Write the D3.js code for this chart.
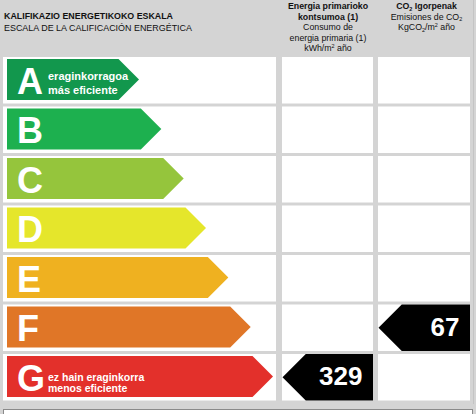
<!DOCTYPE html>
<html>
<head>
<meta charset="utf-8">
<script src="https://cdn.jsdelivr.net/npm/d3@7"></script>
<style>
  html, body { margin: 0; padding: 0; background: #d4d4d4; }
  svg { display: block; font-family: "Liberation Sans", Arial, sans-serif; }
</style>
</head>
<body>
<svg id="chart" width="476" height="414"></svg>
<script>
// ---- data ----
const ratings = ["A", "B", "C", "D", "E", "F", "G"];
const ratingColors = ["#12974d", "#1db04f", "#95c53c", "#e5e62b", "#efb120", "#e07627", "#e3302b"];
const topLabel = ["eraginkorragoa", "más eficiente"];
const bottomLabel = ["ez hain eraginkorra", "menos eficiente"];
const titleLines = ["KALIFIKAZIO ENERGETIKOKO ESKALA", "ESCALA DE LA CALIFICACIÓN ENERGÉTICA"];
const columnKeys = ["energy", "co2"];
const columnHeaders = [
  [["Energia primarioko", true], ["kontsumoa (1)", true], ["Consumo de", false], ["energia primaria (1)", false], ["kWh/m² año", false]],
  [["CO₂ Igorpenak", true], ["Emisiones de CO₂", false], ["KgCO₂/m² año", false]]
];
const resultValues = [329, 67];
const resultRatings = ["G", "F"];

// ---- layout ----
const svg = d3.select("#chart");

const y = d3.scaleBand().domain(ratings).range([55.5, 402]).paddingInner(0.0606).paddingOuter(0.0303);
const tipX = d3.scaleLinear().domain([0, ratings.length - 1]).range([139, 273]);
const col = d3.scaleOrdinal().domain(columnKeys).range([[282, 373], [378, 470]]);

// title
svg.append("g").selectAll("text").data(titleLines).join("text")
  .attr("x", 4)
  .attr("y", (d, i) => 19.3 + i * 11.2)
  .attr("font-size", 8.6)
  .attr("font-weight", (d, i) => i === 0 ? "bold" : "normal")
  .attr("fill", "#111")
  .attr("textLength", (d, i) => i === 0 ? 169 : 188)
  .attr("lengthAdjust", "spacingAndGlyphs")
  .text(d => d);

// column headers with sub/superscripts
function richText(sel, str, fs) {
  const parts = str.split(/(₂|²)/).filter(p => p.length);
  let shift = 0;
  parts.forEach(p => {
    let target = 0;
    let txt = p, size = null;
    if (p === "₂") { target = 1.8; txt = "2"; size = fs * 0.62; }
    else if (p === "²") { target = -3; txt = "2"; size = fs * 0.62; }
    const ts = sel.append("tspan").attr("dy", target - shift).text(txt);
    if (size) ts.attr("font-size", size);
    shift = target;
  });
}
columnKeys.forEach((k, ci) => {
  const [x0, x1] = col(k);
  const cx = (x0 + x1) / 2 + (ci === 1 ? 2.5 : 0.5);
  svg.append("g").selectAll("text").data(columnHeaders[ci]).join("text")
    .attr("x", cx)
    .attr("y", (d, i) => 9 + i * 10.6)
    .attr("text-anchor", "middle")
    .attr("font-size", 8.8)
    .attr("font-weight", d => d[1] ? "bold" : "normal")
    .attr("fill", "#111")
    .each(function(d) { richText(d3.select(this), d[0], 8.8); });
});

// row cells
const rows = svg.append("g").selectAll("g").data(ratings).join("g");
rows.append("rect")
  .attr("x", 3).attr("width", 273)
  .attr("y", d => y(d)).attr("height", y.bandwidth())
  .attr("fill", "#fff");
columnKeys.forEach(k => {
  rows.append("rect")
    .attr("x", col(k)[0]).attr("width", col(k)[1] - col(k)[0])
    .attr("y", d => y(d)).attr("height", y.bandwidth())
    .attr("fill", "#fff");
});

// rating arrows
const arrowH = y.bandwidth() - 5.5;
rows.append("path")
  .attr("d", (d, i) => {
    const top = y(d) + 2, bot = top + arrowH, mid = top + arrowH / 2;
    const tip = tipX(i), body = tip - arrowH / 2;
    return `M7,${top}H${body}L${tip},${mid}L${body},${bot}H7Z`;
  })
  .attr("fill", (d, i) => ratingColors[i]);

rows.append("text")
  .attr("x", 17)
  .attr("y", d => y(d) + 2 + 35)
  .attr("font-size", 36)
  .attr("font-weight", "bold")
  .attr("fill", "#fff")
  .text(d => d);

// sub labels on A and G
function subLabel(rating, lines, offs, fs) {
  svg.append("g").selectAll("text").data(lines).join("text")
    .attr("x", 48)
    .attr("y", (d, i) => y(rating) + 2 + offs[i])
    .attr("font-size", fs)
    .attr("font-weight", "bold")
    .attr("fill", "#fff")
    .text(d => d);
}
subLabel(ratings[0], topLabel, [21.5, 35.5], 11);
subLabel(ratings[ratings.length - 1], bottomLabel, [25, 36.2], 10.5);

// result arrows
columnKeys.forEach((k, i) => {
  const [x0, x1] = col(k);
  const r = resultRatings[i];
  const top = y(r), h = y.bandwidth(), mid = top + h / 2;
  svg.append("path")
    .attr("d", `M${x0 + 0.5},${mid}L${x0 + 0.5 + h / 2},${top}H${x1}V${top + h}H${x0 + 0.5 + h / 2}Z`)
    .attr("fill", "#000");
  svg.append("text")
    .attr("x", x1 - 10.5)
    .attr("y", mid + 8)
    .attr("text-anchor", "end")
    .attr("font-size", 26)
    .attr("font-weight", "bold")
    .attr("fill", "#fff")
    .text(resultValues[i]);
});

// bottom partial box and right edge
svg.append("rect").attr("x", 3.5).attr("y", 409.5).attr("width", 469).attr("height", 10)
  .attr("fill", "#fff").attr("stroke", "#8a8a8a").attr("stroke-width", 1);
svg.append("line").attr("x1", 473.5).attr("x2", 473.5).attr("y1", 0).attr("y2", 404)
  .attr("stroke", "#c4c4c4").attr("stroke-width", 1);
</script>
</body>
</html>
